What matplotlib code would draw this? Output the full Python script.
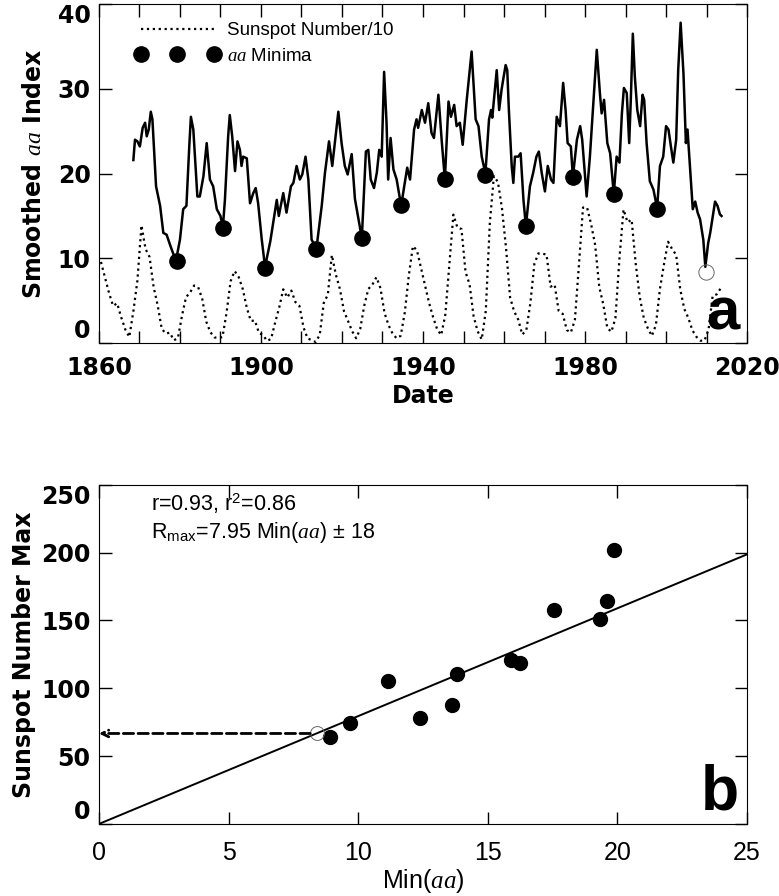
import numpy as np
import matplotlib
matplotlib.use('Agg')
import matplotlib.pyplot as plt

plt.rcParams['font.family'] = ['DejaVu Sans']
plt.rcParams['mathtext.fontset'] = 'custom'
plt.rcParams['mathtext.rm'] = 'Liberation Sans'
plt.rcParams['mathtext.it'] = 'Liberation Serif:italic'
plt.rcParams['mathtext.bf'] = 'Liberation Sans:bold'

# smoothed aa index
aa_year = [1868.5, 1868.9, 1869.5, 1870.1, 1870.8, 1871.4, 1871.8, 1872.3, 1872.8, 1873.2,
           1874.1, 1875.1, 1875.9, 1876.7, 1877.7, 1879.0, 1880.0, 1880.8, 1881.6, 1882.3,
           1882.7, 1883.3, 1884.3, 1884.9, 1885.8, 1886.6, 1887.4, 1888.2, 1889.1, 1890.0,
           1890.6, 1891.1, 1891.9, 1892.3, 1892.9, 1893.6, 1894.2, 1894.8, 1895.2, 1895.6,
           1896.5, 1897.3, 1898.1, 1898.7, 1899.3, 1900.2, 1901.0, 1902.3, 1903.9, 1904.4,
           1905.5, 1906.3, 1907.4, 1908.0, 1908.8, 1909.6, 1910.2, 1911.0, 1911.7, 1912.5,
           1913.7, 1915.0, 1915.8, 1916.8, 1917.6, 1919.1, 1919.9, 1920.7, 1921.4, 1922.4,
           1923.2, 1924.9, 1925.9, 1926.5, 1927.1, 1927.9, 1928.6, 1929.2, 1929.8, 1930.4,
           1931.0, 1931.4, 1932.0, 1932.7, 1933.5, 1934.6, 1936.1, 1936.8, 1937.8, 1938.4,
           1938.8, 1939.7, 1940.5, 1941.3, 1942.1, 1942.7, 1943.8, 1944.6, 1945.4, 1946.3,
           1946.9, 1947.7, 1948.3, 1949.1, 1949.8, 1950.8, 1952.0, 1953.0, 1953.7, 1954.5,
           1955.4, 1956.3, 1956.8, 1957.1, 1957.6, 1958.2, 1958.8, 1959.4, 1959.8, 1960.4,
           1960.8, 1961.2, 1961.9, 1962.3, 1962.7, 1963.5, 1964.1, 1964.8, 1965.4, 1966.4,
           1967.2, 1968.0, 1968.6, 1969.3, 1970.1, 1970.8, 1971.6, 1972.2, 1973.0, 1973.8,
           1974.6, 1975.2, 1975.7, 1976.5, 1977.0, 1978.0, 1978.8, 1979.3, 1980.4, 1981.2,
           1982.0, 1982.9, 1983.7, 1984.1, 1984.7, 1985.5, 1986.2, 1987.1, 1987.8, 1988.5,
           1989.1, 1989.6, 1990.3, 1990.9, 1991.3, 1991.8, 1992.3, 1992.9, 1993.6, 1994.2,
           1994.6, 1995.2, 1996.0, 1996.9, 1997.8, 1998.5, 1999.3, 2000.0, 2000.6, 2001.2,
           2001.8, 2002.5, 2003.0, 2003.6, 2004.3, 2004.9, 2005.3, 2005.9, 2006.6, 2007.2,
           2007.8, 2008.4, 2009.2, 2009.7, 2010.4, 2010.9, 2012.1, 2012.7, 2013.3, 2013.7]
aa_val = [21.6, 24.0, 23.8, 23.2, 25.4, 26.0, 24.4, 25.2, 27.3, 26.4,
          18.5, 16.2, 13.0, 12.8, 11.4, 9.7, 12.2, 15.8, 16.2, 23.2,
          26.7, 25.2, 17.3, 17.3, 19.7, 23.6, 19.3, 18.5, 15.8, 15.0,
          13.7, 16.9, 24.4, 26.9, 24.4, 20.3, 23.8, 22.8, 20.9, 22.0,
          21.8, 16.5, 17.7, 18.3, 16.5, 12.2, 9.0, 12.0, 16.9, 15.0,
          17.7, 15.4, 18.5, 18.9, 20.9, 19.3, 19.9, 22.0, 19.3, 12.2,
          11.2, 16.2, 20.1, 23.8, 20.9, 27.3, 23.6, 20.9, 19.9, 22.3,
          17.0, 12.4, 22.6, 22.8, 19.3, 18.3, 20.1, 22.8, 22.0, 32.0,
          26.0, 19.3, 24.2, 20.5, 19.3, 16.2, 20.7, 19.3, 25.2, 26.4,
          25.4, 27.5, 26.0, 28.3, 24.8, 24.2, 29.3, 24.0, 19.3, 28.5,
          26.7, 28.1, 25.6, 26.0, 23.4, 28.7, 34.4, 26.4, 25.6, 22.0,
          20.0, 26.4, 27.5, 26.6, 29.1, 32.2, 27.5, 29.9, 31.1, 32.8,
          32.2, 27.5, 20.9, 18.9, 22.0, 22.0, 22.4, 16.9, 13.8, 18.5,
          20.1, 22.0, 22.6, 20.1, 17.9, 20.9, 19.3, 18.9, 26.7, 25.6,
          30.7, 27.5, 23.6, 23.2, 19.6, 24.0, 25.6, 24.0, 17.3, 22.0,
          27.9, 34.6, 29.3, 27.1, 28.7, 23.6, 22.4, 17.6, 22.0, 21.3,
          27.1, 30.1, 29.5, 23.6, 28.7, 36.5, 31.4, 27.5, 25.6, 29.3,
          28.7, 23.6, 19.1, 18.1, 15.9, 20.9, 22.0, 25.6, 25.2, 23.2,
          21.3, 24.0, 32.2, 37.8, 31.8, 23.6, 25.2, 20.9, 15.8, 16.7,
          15.4, 14.6, 12.2, 9.0, 11.8, 13.0, 16.7, 16.2, 15.2, 15.0]

# sunspot number, yearly means (plotted /10)
ssn_year = np.arange(1860, 2014) + 0.5
ssn = [95.8, 77.2, 59.1, 44.0, 47.0, 30.5, 16.3, 7.3, 37.6, 74.0,
       139.0, 111.2, 101.6, 66.2, 44.7, 17.0, 11.3, 12.4, 3.4, 6.0,
       32.3, 54.3, 59.7, 68.0, 66.0, 52.2, 25.4, 13.1, 6.8, 6.3,
       7.1, 35.6, 73.0, 85.1, 78.0, 64.0, 41.8, 26.2, 26.7, 12.1,
       9.5, 2.7, 5.0, 24.4, 42.0, 63.5, 53.8, 62.0, 48.5, 43.9,
       18.6, 5.7, 3.6, 1.4, 9.6, 47.4, 57.1, 103.9, 80.6, 63.6,
       37.6, 26.1, 14.2, 5.8, 16.7, 44.3, 63.9, 69.0, 77.8, 64.9,
       35.7, 21.2, 11.1, 5.7, 8.7, 36.1, 79.7, 114.4, 109.6, 88.8,
       67.8, 47.5, 30.6, 16.3, 9.6, 33.2, 92.6, 151.6, 136.3, 134.7,
       83.9, 69.4, 31.5, 13.9, 4.4, 38.0, 141.7, 197.0, 190.0, 159.0,
       112.3, 53.9, 37.5, 27.9, 10.2, 15.1, 47.0, 93.8, 105.9, 105.5,
       104.5, 66.6, 68.9, 38.0, 34.5, 15.5, 12.6, 27.5, 92.5, 160.0,
       160.0, 140.4, 115.9, 66.6, 45.9, 17.9, 13.4, 29.4, 100.2, 157.6,
       142.6, 145.7, 94.3, 54.6, 29.9, 17.5, 8.6, 21.5, 64.3, 93.3,
       119.6, 111.0, 104.0, 63.7, 40.4, 29.8, 15.2, 7.5, 2.9, 3.1,
       16.5, 55.7, 57.6, 64.7]

# aa minima and the following cycle's sunspot maximum
min_year = [1879.2, 1890.6, 1901.0, 1913.7, 1924.9, 1934.5,
            1945.4, 1955.4, 1965.4, 1977.0, 1987.1, 1997.8]
min_aa = [9.68, 13.61, 8.91, 11.16, 12.38, 16.24,
          19.33, 19.87, 13.80, 19.61, 17.55, 15.88]
r_max = [74.5, 87.5, 64.2, 105.1, 77.9, 118.6,
         151.2, 202.0, 110.3, 164.0, 158.0, 120.6]
# cycle 24 prediction
min24_year, min24_aa = 2009.8, 8.42
pred_rmax = 66.7
slope = 7.95

LIB = ['Liberation Sans', 'DejaVu Sans']

fig = plt.figure(figsize=(7.79, 8.96), dpi=100)
ax1 = fig.add_axes([0.127, 0.617, 0.832, 0.3785])
ax2 = fig.add_axes([0.127, 0.0804, 0.832, 0.3785])

tick_kw = dict(direction='in', length=9, width=1, top=True, right=True)

# ---- panel a
ax1.plot(ssn_year, np.array(ssn) / 10, color='k', ls=':', lw=1.6, label='Sunspot Number/10')
ax1.plot(aa_year, aa_val, color='k', lw=1.8)
ax1.plot(min_year, min_aa, 'o', color='k', ms=11, ls='none', label='$aa$ Minima')
ax1.plot(min24_year, min24_aa, 'o', mfc='none', mec='0.4', mew=0.7, ms=11)
ax1.set_xlim(1860, 2020)
ax1.set_ylim(0, 40)
ax1.set_xticks(np.arange(1860, 2021, 10), minor=True)
ax1.set_xticks(np.arange(1860, 2021, 40))
ax1.set_yticks([0, 10, 20, 30, 40])
ax1.tick_params(which='both', labelsize=17, **tick_kw)
ax1.tick_params(axis='x', pad=9)
ax1.tick_params(axis='y', pad=6)
for t in ax1.get_xticklabels() + ax1.get_yticklabels():
    t.set_fontweight('bold')
# keep end labels inside the axis span, as in the original
ax1.get_yticklabels()[0].set_va('bottom')
ax1.get_yticklabels()[-1].set_va('top')
ax1.set_xlabel('Date', fontsize=17, fontweight='bold', labelpad=3)
ax1.set_ylabel('Smoothed $aa$ Index', fontsize=17, fontweight='bold', labelpad=8)
ax1.legend(loc='upper left', bbox_to_anchor=(0.030, 0.996), frameon=False,
           prop={'family': LIB, 'size': 13.5},
           numpoints=3, handlelength=4.5, handletextpad=0.4, labelspacing=0.45)
ax1.text(0.988, 0.005, 'a', transform=ax1.transAxes, ha='right', va='bottom',
         fontsize=43, fontweight='bold', family=LIB)

# ---- panel b
xfit = np.array([0, 25])
ax2.plot(xfit, slope * xfit, color='k', lw=1.4)
ax2.plot(min_aa, r_max, 'o', color='k', ms=10, ls='none')
ax2.plot(min24_aa, pred_rmax, 'o', mfc='none', mec='0.4', mew=0.7, ms=10)
ax2.annotate('', xy=(0, pred_rmax), xytext=(min24_aa, pred_rmax),
             arrowprops=dict(arrowstyle='->', lw=2, ls='--', color='k',
                             shrinkA=5, shrinkB=0, mutation_scale=12))
ax2.set_xlim(0, 25)
ax2.set_ylim(0, 250)
ax2.set_xticks([0, 5, 10, 15, 20, 25])
ax2.set_yticks([0, 50, 100, 150, 200, 250])
ax2.tick_params(which='both', labelsize=17, **tick_kw)
ax2.tick_params(axis='x', pad=12, labelsize=18)
ax2.tick_params(axis='y', pad=6)
for t in ax2.get_yticklabels():
    t.set_fontweight('bold')
ax2.get_yticklabels()[0].set_va('bottom')
ax2.get_yticklabels()[-1].set_va('top')
for t in ax2.get_xticklabels():
    t.set_family(LIB)
ax2.set_xlabel('Min($aa$)', fontsize=18, family=LIB, labelpad=2)
ax2.set_ylabel('Sunspot Number Max', fontsize=17, fontweight='bold', labelpad=4)
ax2.text(2.0, 236, 'r=0.93, r$^2$=0.86', fontsize=15.5, va='center', family=LIB)
ax2.text(2.0, 215, 'R$_{\\rm max}$=7.95 Min($aa$) $\\pm$ 18', fontsize=15.5, va='center',
         family=LIB)
ax2.text(0.988, 0.005, 'b', transform=ax2.transAxes, ha='right', va='bottom',
         fontsize=45, fontweight='bold', family=LIB)

fig.savefig('out.png', dpi=100)
